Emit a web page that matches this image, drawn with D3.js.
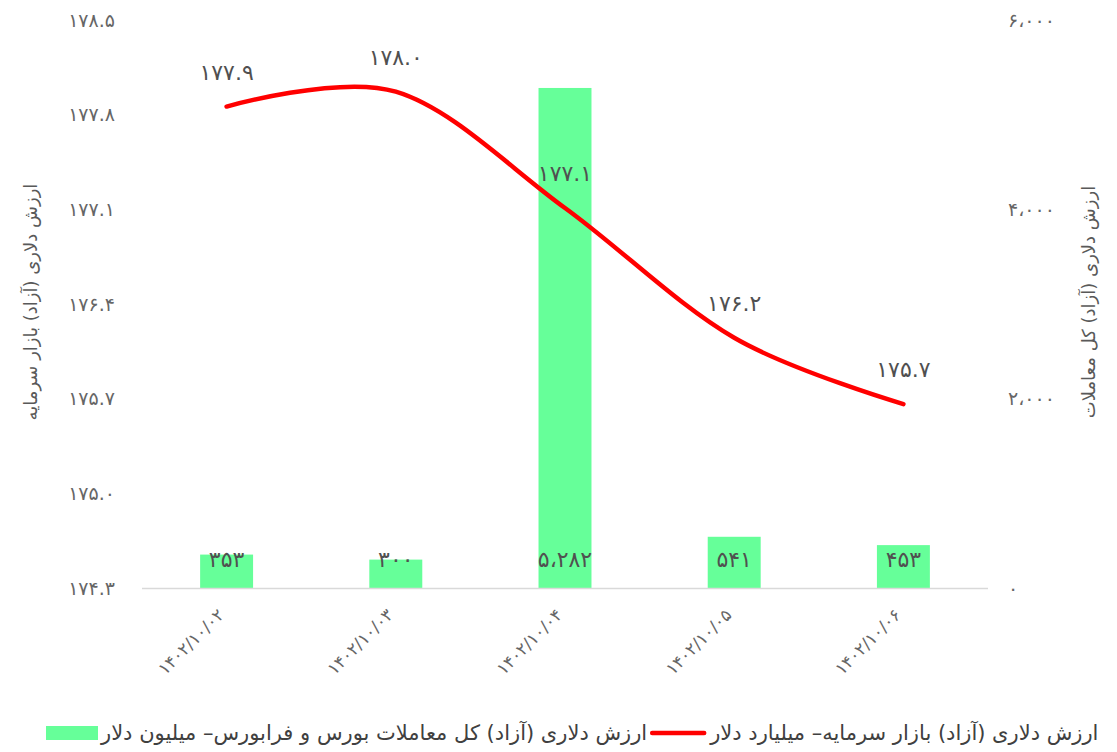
<!DOCTYPE html>
<html>
<head>
<meta charset="utf-8">
<script src="https://cdn.jsdelivr.net/npm/d3@7"></script>
<style>
  html, body { margin: 0; padding: 0; background: #fff; }
  svg { display: block; font-family: "DejaVu Sans", "Noto Sans", sans-serif; }
</style>
</head>
<body>
<svg id="chart" width="1117" height="752"></svg>
<script>
// ---- data ----
const categories = ["1402/10/02", "1402/10/03", "1402/10/04", "1402/10/05", "1402/10/06"];
const barValues = [353, 300, 5282, 541, 453];            // million dollars
const lineValues = [177.86, 177.97, 177.11, 176.15, 175.66]; // billion dollars
const leftTicks = [174.3, 175.0, 175.7, 176.4, 177.1, 177.8, 178.5];
const rightTicks = [0, 2000, 4000, 6000];
const leftTitle = "ارزش دلاری (آزاد) بازار سرمایه";
const rightTitle = "ارزش دلاری (آزاد) کل معاملات";
const barName = "ارزش دلاری (آزاد) کل معاملات بورس و فرابورس– میلیون دلار";
const lineName = "ارزش دلاری (آزاد) بازار سرمایه– میلیارد دلار";

// ---- helpers ----
const faDigits = "۰۱۲۳۴۵۶۷۸۹";
const toFa = s => String(s).replace(/[0-9]/g, d => faDigits[+d]).replace(/,/g, "،");
const f1 = d3.format(".1f");
const fc = d3.format(",");

const svg = d3.select("#chart");
const pLeft = 142, pRight = 988, pTop = 20, pBottom = 588;

const x = d3.scalePoint().domain(categories).range([pLeft, pRight]).padding(0.5);
const step = x.step();
const barW = step * 0.313;
const yL = d3.scaleLinear().domain([174.3, 178.5]).range([pBottom, pTop]);
const yR = d3.scaleLinear().domain([0, 6000]).range([pBottom, pTop]);

// bars
svg.append("g").selectAll("rect").data(barValues).join("rect")
  .attr("x", (d, i) => x(categories[i]) - barW / 2)
  .attr("width", barW)
  .attr("y", d => yR(d))
  .attr("height", d => yR(0) - yR(d))
  .attr("fill", "#66FF99");

// x axis line
svg.append("line")
  .attr("x1", pLeft).attr("x2", pRight)
  .attr("y1", pBottom + 0.5).attr("y2", pBottom + 0.5)
  .attr("stroke", "#d9d9d9").attr("stroke-width", 1.5);

// left axis
const axL = svg.append("g").attr("transform", `translate(${pLeft},0)`)
  .call(d3.axisLeft(yL).tickValues(leftTicks).tickSize(0).tickPadding(27).tickFormat(d => toFa(f1(d))));
axL.select(".domain").remove();
axL.selectAll("text").attr("fill", "#666666").style("font-size", "19px").style("font-family", "DejaVu Sans");

// right axis
const axR = svg.append("g").attr("transform", `translate(${pRight},0)`)
  .call(d3.axisRight(yR).tickValues(rightTicks).tickSize(0).tickPadding(20).tickFormat(d => toFa(fc(d))));
axR.select(".domain").remove();
axR.selectAll("text").attr("fill", "#666666").style("font-size", "19px").style("font-family", "DejaVu Sans");

// x labels
const axX = svg.append("g").attr("transform", `translate(0,${pBottom})`)
  .call(d3.axisBottom(x).tickSize(0).tickFormat(d => toFa(d)));
axX.select(".domain").remove();
axX.selectAll("text")
  .attr("fill", "#666666").style("font-size", "17px").style("font-family", "DejaVu Sans")
  .attr("text-anchor", "end")
  .attr("dy", null).attr("y", 0)
  .attr("transform", "translate(-2,28) rotate(-45)");

// line
const line = d3.line()
  .x((d, i) => x(categories[i]))
  .y(d => yL(d))
  .curve(d3.curveCatmullRom.alpha(0));
svg.append("path").datum(lineValues)
  .attr("d", line)
  .attr("fill", "none").attr("stroke", "#FF0000")
  .attr("stroke-width", 4.5).attr("stroke-linecap", "round").attr("stroke-linejoin", "round");

// line labels
svg.append("g").selectAll("text").data(lineValues).join("text")
  .attr("x", (d, i) => x(categories[i]))
  .attr("y", d => yL(d) - 27)
  .attr("text-anchor", "middle")
  .attr("fill", "#505050").style("font-size", "22px")
  .text(d => toFa(f1(d)));

// bar labels
svg.append("g").selectAll("text").data(barValues).join("text")
  .attr("x", (d, i) => x(categories[i]))
  .attr("y", yR(0) - 21)
  .attr("text-anchor", "middle")
  .attr("fill", "#505050").style("font-size", "22px")
  .text(d => toFa(fc(d)));

// axis titles
svg.append("text")
  .attr("transform", "translate(37,302) rotate(-90)")
  .attr("text-anchor", "middle").attr("fill", "#595959").style("font-size", "18px")
  .text(leftTitle);
svg.append("text")
  .attr("transform", "translate(1095,302) rotate(-90)")
  .attr("text-anchor", "middle").attr("fill", "#595959").style("font-size", "18px")
  .text(rightTitle);

// legend
const lg = svg.append("g");
const ly = 734;
lg.append("rect").attr("x", 46).attr("y", ly - 8).attr("width", 52).attr("height", 14).attr("fill", "#66FF99");
const t1 = lg.append("text").attr("x", 101).attr("y", ly + 6).attr("fill", "#404040").style("font-size", "21px").text(barName);
const w1 = t1.node().getComputedTextLength();
const lx = 101 + w1 + 2;
lg.append("line").attr("x1", lx + 3).attr("x2", lx + 55).attr("y1", ly - 1).attr("y2", ly - 1)
  .attr("stroke", "#FF0000").attr("stroke-width", 4.5).attr("stroke-linecap", "round");
lg.append("text").attr("x", lx + 61).attr("y", ly + 6).attr("fill", "#404040").style("font-size", "21px").text(lineName);
</script>
</body>
</html>
